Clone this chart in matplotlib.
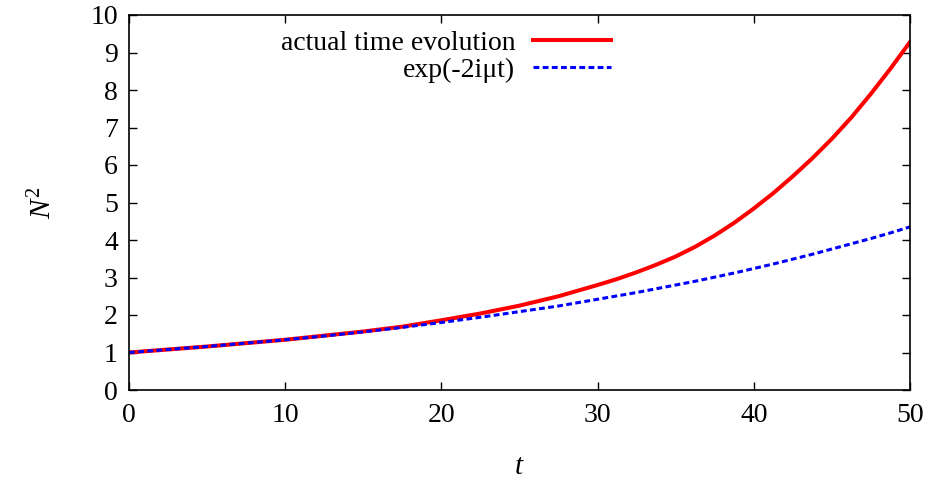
import matplotlib.pyplot as plt
import numpy as np

plt.rcParams['font.family'] = 'Liberation Serif'
plt.rcParams['mathtext.fontset'] = 'custom'
plt.rcParams['mathtext.rm'] = 'Liberation Serif'
plt.rcParams['mathtext.it'] = 'Liberation Serif:italic'

t = [0, 2.5, 5, 7.5, 10, 12.5, 15, 17.5, 20, 22.5, 25, 27.5, 30,
     31.25, 32.5, 33.75, 35, 36.25, 37.5, 38.75, 40, 41.25, 42.5,
     43.75, 45, 46.25, 47.5, 48.75, 50]
actual = [1.00, 1.08, 1.16, 1.25, 1.34, 1.45, 1.56, 1.69, 1.86, 2.04, 2.25,
          2.50, 2.80, 2.96, 3.14, 3.34, 3.56, 3.82, 4.12, 4.46, 4.84, 5.25,
          5.70, 6.18, 6.70, 7.27, 7.90, 8.57, 9.28]
approx = [1.00, 1.08, 1.16, 1.25, 1.34, 1.44, 1.55, 1.67, 1.80, 1.94, 2.09,
          2.24, 2.42, 2.51, 2.60, 2.70, 2.80, 2.90, 3.01, 3.12, 3.24, 3.36,
          3.49, 3.62, 3.76, 3.90, 4.04, 4.19, 4.35]

xticks = [0, 10, 20, 30, 40, 50]
yticks = list(range(11))

fig = plt.figure(figsize=(9.33, 4.8), dpi=100)
ax = fig.add_axes([129 / 933, 90 / 480, 781 / 933, 375 / 480])

ax.plot(t, actual, color='#ff0000', lw=2.9, label='actual time evolution')
ax.plot(t, approx, color='#0000ff', lw=2.2, dashes=(1.9, 1.1), label='exp(-2iμt)')

ax.set_xlim(0, 50)
ax.set_ylim(0, 10)
ax.set_xticks(xticks)
ax.set_yticks(yticks)
ax.tick_params(direction='in', length=6, width=1, top=True, right=True,
               labelsize=20, colors='black')
ax.tick_params(axis='x', pad=9)
ax.tick_params(axis='y', pad=8)
for s in ax.spines.values():
    s.set_linewidth(1.2)

ax.set_xlabel('$t$', fontsize=21, labelpad=19)
ax.set_ylabel('$N^2$', fontsize=21, labelpad=24)

leg = ax.legend(loc='upper right', bbox_to_anchor=(0.635, 0.995), frameon=False,
                markerfirst=False, fontsize=20, handlelength=2.8,
                handletextpad=0.65, labelspacing=0.05, borderaxespad=0.1)
for txt in leg.get_texts():
    txt.set_ha('right')
leg._legend_box.align = 'right'

fig.savefig('out.png', dpi=100)
